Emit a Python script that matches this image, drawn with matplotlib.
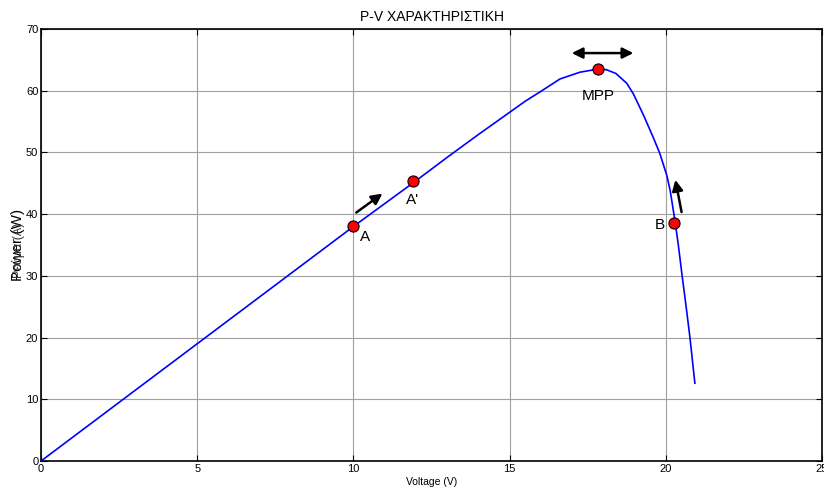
import matplotlib
matplotlib.use('Agg')
import matplotlib.pyplot as plt

plt.rcParams['font.family'] = ['Liberation Sans', 'DejaVu Sans']

# P-V curve
voltage = [0, 2, 4, 6, 8, 10, 12, 13, 14, 15, 15.5, 16, 16.61, 17.25,
           17.82, 18.1, 18.4, 18.75, 18.96, 19.28, 19.6, 19.81, 20.03,
           20.14, 20.29, 20.4, 20.52, 20.65, 20.77, 20.93]
power = [0, 7.6, 15.2, 22.8, 30.4, 38.0, 45.4, 49.2, 52.9, 56.5, 58.3,
         59.9, 61.9, 63.0, 63.5, 63.4, 62.8, 61.2, 59.5, 56.1, 52.4, 49.8,
         46.3, 43.8, 39.0, 35.0, 30.1, 25.0, 20.1, 12.6]

# marked operating points
pt_names = ['A', "A'", 'MPP', 'B']
pt_v = [10.0, 11.9, 17.82, 20.27]
pt_p = [38.0, 45.4, 63.5, 38.6]

fig = plt.figure(figsize=(8.24, 4.9), dpi=100)
ax = fig.add_axes([0.0498, 0.0592, 0.9478, 0.8816])

ax.plot(voltage, power, color='blue', lw=1.2, zorder=3)
ax.plot(pt_v, pt_p, 'o', color='red', mec='black', mew=0.8, ms=8, zorder=4)

# labels next to the points
ax.text(10.2, 36.3, pt_names[0], fontsize=11, ha='left', va='center')
ax.text(11.9, 42.3, pt_names[1], fontsize=11, ha='center', va='center')
ax.text(17.85, 59.2, pt_names[2], fontsize=11, ha='center', va='center')
ax.text(19.8, 38.2, pt_names[3], fontsize=11, ha='center', va='center')

# direction arrows
arr = dict(arrowstyle='-|>', color='black', lw=1.8, mutation_scale=16)
ax.annotate('', xy=(11.0, 43.6), xytext=(10.02, 40.0), arrowprops=arr)
ax.annotate('', xy=(20.29, 46.0), xytext=(20.52, 39.9), arrowprops=arr)
ax.annotate('', xy=(16.9, 66.1), xytext=(19.05, 66.1),
            arrowprops=dict(arrowstyle='<|-|>', color='black', lw=1.8,
                            mutation_scale=16))

ax.set_xlim(0, 25)
ax.set_ylim(0, 70)
ax.set_xticks([0, 5, 10, 15, 20, 25])
ax.set_yticks(range(0, 71, 10))
ax.grid(True, color='#a0a0a0', lw=0.8)
ax.tick_params(direction='in', top=True, right=True, labelsize=8, length=4, pad=2)
for s in ax.spines.values():
    s.set_linewidth(1.2)

ax.set_title('P-V ΧΑΡΑΚΤΗΡΙΣΤΙΚΗ', fontsize=10, pad=6)
ax.set_xlabel('Voltage (V)', fontsize=7.5, labelpad=2)
# two overlapping y labels, as in the original
fig.text(0.022, 0.50, 'Power (W)', rotation=90, fontsize=11, ha='center', va='center')
fig.text(0.022, 0.49, 'Ρεύμα (A)', rotation=90, fontsize=9, ha='center', va='center',
         color='#333333')

fig.savefig('out.png', dpi=100)
